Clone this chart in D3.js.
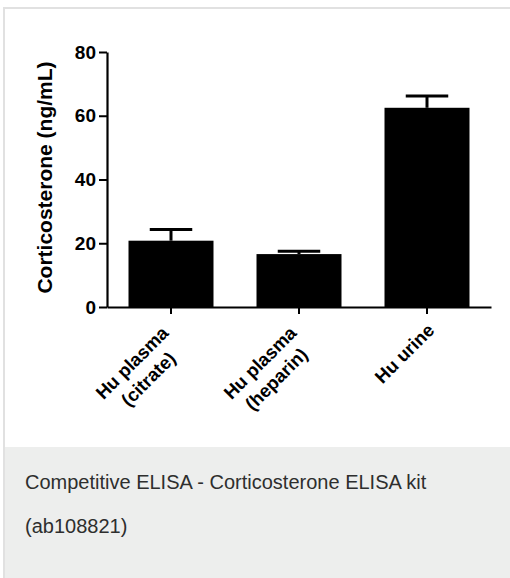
<!DOCTYPE html>
<html>
<head>
<meta charset="utf-8">
<script src="https://cdn.jsdelivr.net/npm/d3@7"></script>
<style>
  body { margin: 0; background: #fff; }
  svg { display: block; }
</style>
</head>
<body>
<div class="chart"></div>
<script>
// data
var samples = [["Hu plasma", "(citrate)"], ["Hu plasma", "(heparin)"], ["Hu urine"]];
var means = [20.8, 16.6, 62.5];
var errors = [3.5, 0.9, 3.7];
var yTicks = [0, 20, 40, 60, 80];
var yTitle = "Corticosterone (ng/mL)";
var caption = ["Competitive ELISA - Corticosterone ELISA kit", "(ab108821)"];

var svgWidth = 510, svgHeight = 578;
var margin = {top: 52, right: 19, bottom: 271, left: 107};
var width = svgWidth - margin.left - margin.right;
var height = svgHeight - margin.top - margin.bottom;
var font = "'Liberation Sans', Arial, sans-serif";

var svg = d3.select(".chart")
  .append("svg")
  .attr("width", svgWidth)
  .attr("height", svgHeight);

// card frame + caption panel
svg.append("rect")
  .attr("x", 4).attr("y", 447)
  .attr("width", svgWidth - 4).attr("height", svgHeight - 447)
  .attr("fill", "#edeeed");
svg.append("line")
  .attr("x1", 3).attr("x2", svgWidth)
  .attr("y1", 8).attr("y2", 8)
  .attr("stroke", "#e1e1e1").attr("stroke-width", 2);
svg.append("line")
  .attr("x1", 4).attr("x2", 4)
  .attr("y1", 7).attr("y2", svgHeight)
  .attr("stroke", "#e1e1e1").attr("stroke-width", 2);

svg.selectAll(".caption")
  .data(caption)
  .enter()
  .append("text")
  .attr("class", "caption")
  .attr("x", 25)
  .attr("y", (d, i) => 489 + i * 44)
  .attr("font-family", font)
  .attr("font-size", 20)
  .attr("fill", "#2e2e2e")
  .text(d => d);

var chartGroup = svg.append("g")
  .attr("transform", `translate(${margin.left}, ${margin.top})`);

var xScale = d3.scaleBand()
  .domain(d3.range(samples.length))
  .range([0, width])
  .paddingInner(0.336)
  .paddingOuter(0.168);

var yScale = d3.scaleLinear()
  .domain([0, 80])
  .range([height, 0]);

// bars
chartGroup.selectAll(".bar")
  .data(means)
  .enter()
  .append("rect")
  .attr("class", "bar")
  .attr("x", (d, i) => xScale(i))
  .attr("y", d => yScale(d))
  .attr("width", xScale.bandwidth())
  .attr("height", d => height - yScale(d))
  .attr("fill", "#000");

// error bars (upper only)
var capW = xScale.bandwidth() / 2;
var mid = i => xScale(i) + xScale.bandwidth() / 2;
var errGroup = chartGroup.selectAll(".err")
  .data(means)
  .enter()
  .append("g")
  .attr("class", "err");
errGroup.append("line")
  .attr("x1", (d, i) => mid(i))
  .attr("x2", (d, i) => mid(i))
  .attr("y1", d => yScale(d))
  .attr("y2", (d, i) => yScale(d + errors[i]))
  .attr("stroke", "#000").attr("stroke-width", 3);
errGroup.append("line")
  .attr("x1", (d, i) => mid(i) - capW / 2)
  .attr("x2", (d, i) => mid(i) + capW / 2)
  .attr("y1", (d, i) => yScale(d + errors[i]))
  .attr("y2", (d, i) => yScale(d + errors[i]))
  .attr("stroke", "#000").attr("stroke-width", 3);

// y axis
var yAxis = chartGroup.append("g")
  .call(d3.axisLeft(yScale).tickValues(yTicks).tickSize(8).tickSizeOuter(0).tickPadding(3));
yAxis.select(".domain").attr("stroke-width", 2.2);
yAxis.selectAll(".tick line").attr("stroke-width", 2);
yAxis.selectAll(".tick text")
  .attr("font-family", font)
  .attr("font-weight", "bold")
  .attr("font-size", 19)
  .attr("fill", "#000");

// x axis
var xAxis = chartGroup.append("g")
  .attr("transform", `translate(0, ${height})`)
  .call(d3.axisBottom(xScale).tickSize(7).tickSizeOuter(0).tickFormat(""));
xAxis.select(".domain").attr("stroke-width", 2.2);
xAxis.selectAll(".tick line").attr("stroke-width", 2);

// rotated, multi-line category labels
var labels = chartGroup.selectAll(".xlabel")
  .data(samples)
  .enter()
  .append("text")
  .attr("class", "xlabel")
  .attr("font-family", font)
  .attr("font-weight", "bold")
  .attr("font-size", 18.5)
  .attr("text-anchor", "middle")
  .attr("transform", (d, i) => `translate(${mid(i)}, ${height + 6}) rotate(-45)`);

labels.each(function(lines) {
  var t = d3.select(this);
  var n = lines.length - 1;
  var spans = t.selectAll("tspan")
    .data(lines)
    .enter()
    .append("tspan")
    .attr("y", (d, j) => 19 - n * 5 + j * 23)
    .text(d => d);
  var w = d3.max(spans.nodes(), s => s.getComputedTextLength());
  spans.attr("x", -7 - n * 9 - w / 2);
});

// y title
chartGroup.append("text")
  .attr("transform", "rotate(-90)")
  .attr("x", -height / 2 + 2)
  .attr("y", 52 - margin.left)
  .attr("text-anchor", "middle")
  .attr("font-family", font)
  .attr("font-weight", "bold")
  .attr("font-size", 21)
  .text(yTitle);
</script>
</body>
</html>
